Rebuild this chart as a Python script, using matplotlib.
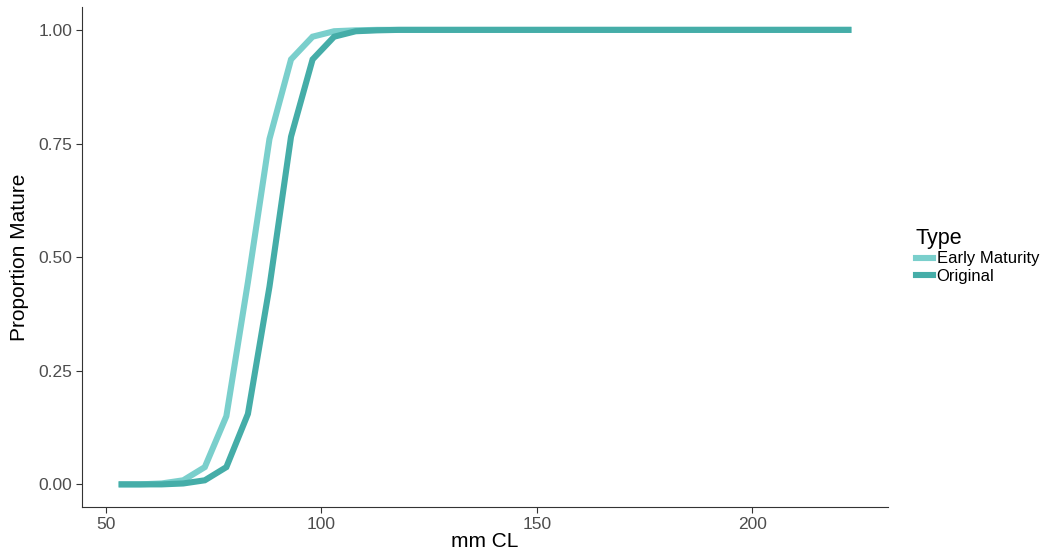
import matplotlib
matplotlib.use("Agg")
import matplotlib.pyplot as plt
from matplotlib.lines import Line2D

plt.rcParams['font.family'] = ['Liberation Sans', 'DejaVu Sans']

# Carapace length (mm CL) at which maturity was evaluated
length_mm = [53, 58, 63, 68, 73, 78, 83, 88, 93, 98, 103, 108, 113, 118, 123,
             128, 133, 138, 143, 148, 153, 158, 163, 168, 173, 178, 183, 188,
             193, 198, 203, 208, 213, 218, 223]

# Proportion mature for each maturity schedule
early_maturity = [0.000, 0.000, 0.002, 0.009, 0.038, 0.150, 0.445, 0.760, 0.935,
                  0.985, 0.997, 0.999, 1.000, 1.000, 1.000, 1.000, 1.000, 1.000,
                  1.000, 1.000, 1.000, 1.000, 1.000, 1.000, 1.000, 1.000, 1.000,
                  1.000, 1.000, 1.000, 1.000, 1.000, 1.000, 1.000, 1.000]
original = [0.000, 0.000, 0.000, 0.002, 0.009, 0.038, 0.155, 0.435, 0.765,
            0.935, 0.985, 0.997, 0.999, 1.000, 1.000, 1.000, 1.000, 1.000,
            1.000, 1.000, 1.000, 1.000, 1.000, 1.000, 1.000, 1.000, 1.000,
            1.000, 1.000, 1.000, 1.000, 1.000, 1.000, 1.000, 1.000]

series_names = ["Early Maturity", "Original"]
series_colors = ["#7ACFCC", "#45ADA8"]

x_ticks = [50, 100, 150, 200]
y_ticks = [0.00, 0.25, 0.50, 0.75, 1.00]
y_tick_labels = ["0.00", "0.25", "0.50", "0.75", "1.00"]

fig = plt.figure(figsize=(10.48, 5.5), dpi=100)
ax = fig.add_axes([0.0782, 0.078, 0.7692, 0.909])

for vals, col in zip([early_maturity, original], series_colors):
    ax.plot(length_mm, vals, color=col, linewidth=4.4, solid_capstyle='butt',
            solid_joinstyle='miter')

span = max(length_mm) - min(length_mm)
ax.set_xlim(min(length_mm) - 0.05 * span, max(length_mm) + 0.05 * span)
ax.set_ylim(-0.05, 1.05)

ax.set_xticks(x_ticks)
ax.set_yticks(y_ticks)
ax.set_yticklabels(y_tick_labels)

for side in ['top', 'right']:
    ax.spines[side].set_visible(False)
for side in ['left', 'bottom']:
    ax.spines[side].set_color('#333333')
    ax.spines[side].set_linewidth(0.8)

ax.tick_params(axis='both', direction='out', length=4, width=0.8,
               color='#333333', labelcolor='#4D4D4D', labelsize=12.5, pad=3)

ax.set_xlabel("mm CL", fontsize=15, color='black', labelpad=0)
ax.set_ylabel("Proportion Mature", fontsize=15, color='black', labelpad=7)

handles = [Line2D([0], [0], color=c, linewidth=4.4) for c in series_colors]
leg = fig.legend(handles, series_names, title="Type", loc='center left',
                 bbox_to_anchor=(0.866, 0.535), frameon=False, fontsize=12,
                 title_fontsize=15.5, handlelength=1.0, handletextpad=0.25,
                 labelspacing=0.15, borderpad=0.0)
leg._legend_box.align = "left"
leg._legend_box.sep = 2

fig.savefig("out.png", dpi=100)
